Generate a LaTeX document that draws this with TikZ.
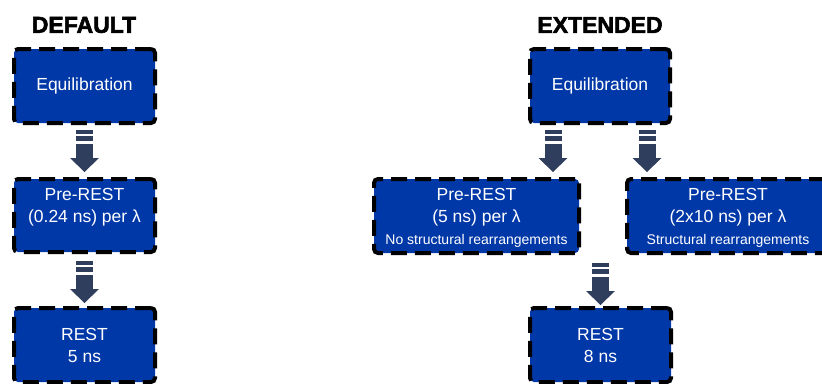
\documentclass[tikz,border=0pt]{standalone}
\usepackage{fontspec}
\setmainfont{Liberation Sans}
\newfontfamily\titlefont[FakeBold=2.5]{Liberation Sans}
\usetikzlibrary{calc}
\definecolor{boxblue}{RGB}{0,56,168}
\definecolor{arrowslate}{RGB}{46,62,92}
\tikzset{
  box/.style={draw=black, fill=boxblue, line width=4pt, dash pattern=on 16pt off 8pt,
    rounded corners=4pt, inner sep=0pt, outer sep=0pt},
  boxtext/.style={text=white, align=center, font=\fontsize{17.5}{22}\selectfont, inner sep=0pt},
  titletext/.style={font=\titlefont\bfseries\fontsize{23}{27}\selectfont, inner sep=0pt},
  blockarrow/.pic={
    \fill[arrowslate] (-8.5,-42) rectangle (8.5,-38.5);
    \fill[arrowslate] (-8.5,-36) rectangle (8.5,-31.5);
    \fill[arrowslate] (-8.5,-28.5) rectangle (8.5,-13.5);
    \fill[arrowslate] (-14.5,-14) -- (14.5,-14) -- (0,0) -- cycle;
  }
}
\begin{document}
\begin{tikzpicture}[x=1pt,y=-1pt]
\useasboundingbox (0,0) rectangle (822,383);
\clip (0,0) rectangle (822,383);

% titles
\node[titletext] (tdef) at (84,25) {DEFAULT};
\node[titletext] (text) at (600,25) {EXTENDED};

% default column
\node[box, minimum width=141pt, minimum height=74pt] (eq1) at (84.5,86) {};
\node[box, minimum width=141pt, minimum height=73pt] (pre1) at (84.5,215.5) {};
\node[box, minimum width=141pt, minimum height=74pt] (rest1) at (84.5,345) {};
\node[boxtext] (eq1t) at (eq1.center) {Equilibration};
\node[boxtext] (pre1t) at ($(pre1.center)+(0,-8.5)$) {Pre-REST\\(0.24 ns) per λ};
\node[boxtext] (rest1t) at ($(rest1.center)+(0,0.5)$) {REST\\5 ns};

% extended column
\node[box, minimum width=140pt, minimum height=74pt] (eq2) at (600,86) {};
\node[box, minimum width=205pt, minimum height=74pt] (pre2) at (476.5,216) {};
\node[box, minimum width=202pt, minimum height=74pt] (pre3) at (728,216) {};
\node[box, minimum width=141pt, minimum height=74pt] (rest2) at (600.5,345) {};
\node[boxtext] (eq2t) at (eq2.center) {Equilibration};
\node[boxtext] (pre2t) at ($(pre2.center)+(0,2)$) {Pre-REST\\(5 ns) per λ\\{\fontsize{14}{22}\selectfont No structural rearrangements}};
\node[boxtext] (pre3t) at ($(pre3.center)+(0,2)$) {Pre-REST\\(2x10 ns) per λ\\{\fontsize{14}{22}\selectfont Structural rearrangements}};
\node[boxtext] (rest2t) at ($(rest2.center)+(0,0.5)$) {REST\\8 ns};

% block arrows (tip just above the target box)
\pic at ($(pre1.north)+(0,-7)$) {blockarrow};
\pic at ($(rest1.north)+(0,-5)$) {blockarrow};
\pic at ($(eq2.center |- pre2.north)+(-47,-7)$) {blockarrow};
\pic at ($(eq2.center |- pre3.north)+(47,-7)$) {blockarrow};
\pic at ($(rest2.north)+(0,-3)$) {blockarrow};
\end{tikzpicture}
\end{document}
